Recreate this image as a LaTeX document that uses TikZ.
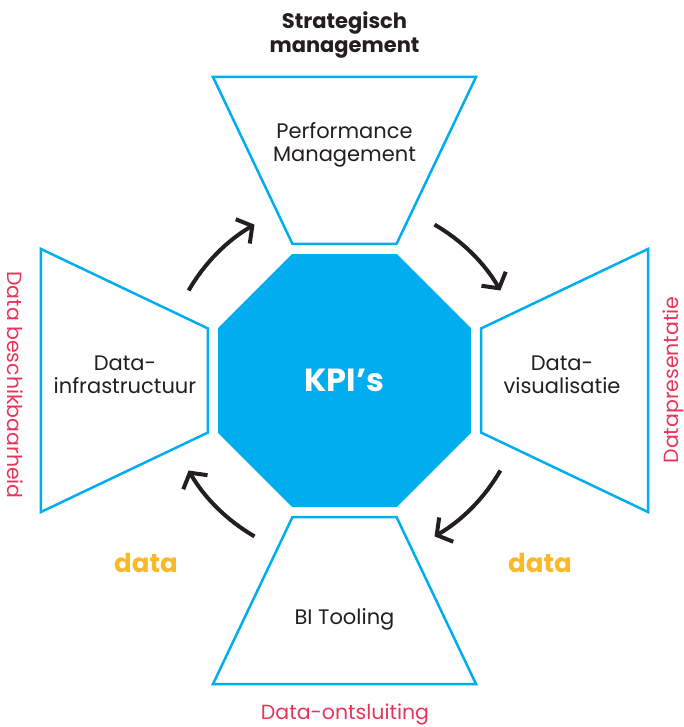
\documentclass[tikz,border=0pt]{standalone}
\usepackage{fontspec}
\setmainfont{Poppins}
\usetikzlibrary{shapes.geometric,arrows.meta}
\definecolor{kpiblue}{HTML}{00AEEF}
\definecolor{kpired}{HTML}{E9345A}
\definecolor{kpiyellow}{HTML}{FBB829}
\definecolor{kpitext}{HTML}{231F20}
\tikzset{
  funnel/.style={draw=kpiblue, line width=2.5pt, line join=miter},
  stage/.style={align=center, text=kpitext, font=\fontsize{21}{23.5}\selectfont},
  side/.style={text=kpired, font=\fontsize{20.5}{24}\selectfont},
  flow/.style={draw=kpitext, line width=4pt, -{Straight Barb[length=11pt,width=28pt]}},
}
\begin{document}
\begin{tikzpicture}[x=1pt,y=1pt]
	\useasboundingbox (-344.5,-346.5) rectangle (339.5,380.5);
	
	% centre
	\node[regular polygon, regular polygon sides=8, minimum size=273.8pt, inner sep=0pt, fill=kpiblue, text=white, font=\bfseries\fontsize{32}{36}\selectfont] (kpi) at (0,0) {KPI’s};
	
	% four funnels
	\foreach \r in {0,90,180,270}
		\draw[funnel, rotate=\r] (-52,136.5) -- (52,136.5) -- (131.5,303.5) -- (-131.5,303.5) -- cycle;
	
	\node[stage] (perf) at (0,235.5) {Performance\\Management};
	\node[stage] (infra) at (-219.5,5.5) {Data-\\infrastructuur};
	\node[stage] (visual) at (217.5,5.5) {Data-\\visualisatie};
	\node[stage] (bi) at (0,-239) {BI Tooling};
	
	\node[align=center, text=kpitext, font=\bfseries\fontsize{21}{24}\selectfont] (strat) at (0,345.5) {Strategisch\\management};
	\node[side, rotate=-90] (avail) at (-329.5,-4.5) {Data beschikbaarheid};
	\node[side, rotate=90] (pres) at (328.5,0.5) {Datapresentatie};
	\node[side] (access) at (0.5,-334) {Data-ontsluiting};
	\node[text=kpiyellow, font=\bfseries\fontsize{26}{30}\selectfont] (dataL) at (-198.5,-182.5) {data};
	\node[text=kpiyellow, font=\bfseries\fontsize{26}{30}\selectfont] (dataR) at (195.5,-182.5) {data};
	
	% cycle arrows
	\coordinate (a1) at (150:180);
	\coordinate (a2) at (60:180);
	\coordinate (a3) at (-30:180);
	\coordinate (a4) at (-120:180);
	\draw[flow] (a1) arc[start angle=150, end angle=120, radius=180];
	\draw[flow] (a2) arc[start angle=60, end angle=30, radius=180];
	\draw[flow] (a3) arc[start angle=-30, end angle=-60, radius=180];
	\draw[flow] (a4) arc[start angle=-120, end angle=-150, radius=180];
	
\end{tikzpicture}
\end{document}
